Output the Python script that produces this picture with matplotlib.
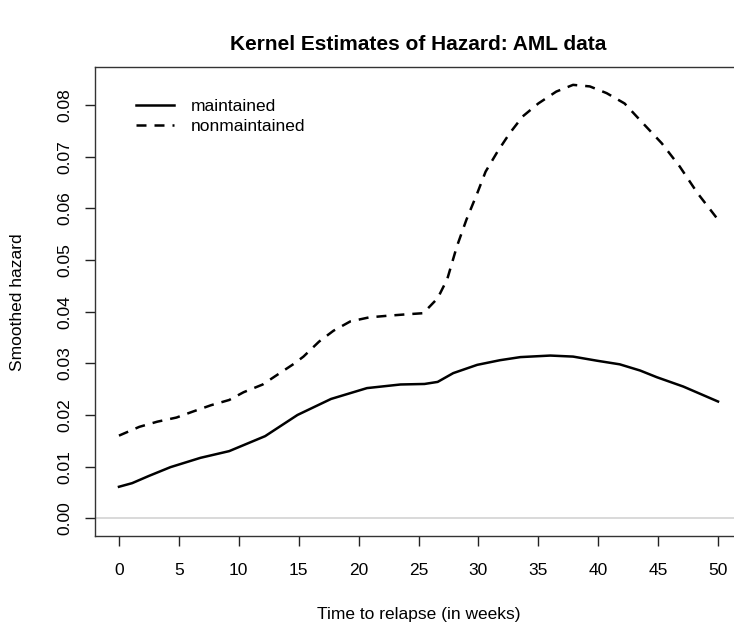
import matplotlib
matplotlib.use('Agg')
import matplotlib.pyplot as plt

# values
weeks_maint = [0, 1.1, 2.5, 4.3, 6.8, 9.2, 12.2, 14.9, 17.7, 20.7, 23.5, 25.5, 26.6,
               27.9, 29.9, 31.8, 33.5, 36.0, 37.9, 39.9, 41.8, 43.5, 44.9, 47.1, 50]
hazard_maint = [0.0061, 0.0068, 0.0082, 0.0099, 0.0117, 0.0130, 0.0159, 0.0200, 0.0231,
                0.0252, 0.0259, 0.0260, 0.0264, 0.0281, 0.0297, 0.0306, 0.0312, 0.0315,
                0.0313, 0.0305, 0.0298, 0.0286, 0.0273, 0.0255, 0.0226]

weeks_nonmaint = [0, 1.7, 3.2, 4.8, 6.1, 7.7, 9.2, 10.4, 12.0, 13.1, 14.6, 15.4, 16.7,
                  17.9, 19.3, 20.9, 22.4, 24.1, 25.4, 26.6, 27.4, 28.2, 29.0, 29.9, 30.6,
                  31.6, 32.6, 33.7, 35.0, 36.5, 37.9, 39.3, 40.7, 42.2, 43.6, 45.3, 46.8,
                  48.3, 50]
hazard_nonmaint = [0.0160, 0.0177, 0.0187, 0.0195, 0.0206, 0.0219, 0.0229, 0.0244, 0.0259,
                   0.0276, 0.0299, 0.0313, 0.0342, 0.0363, 0.0381, 0.0389, 0.0392, 0.0395,
                   0.0397, 0.0426, 0.0463, 0.0526, 0.0578, 0.0629, 0.0671, 0.0710, 0.0745,
                   0.0778, 0.0803, 0.0826, 0.0839, 0.0836, 0.0823, 0.0803, 0.0768, 0.0726,
                   0.0681, 0.0629, 0.0578]

x_ticks = [0, 5, 10, 15, 20, 25, 30, 35, 40, 45, 50]
y_ticks = [0.00, 0.01, 0.02, 0.03, 0.04, 0.05, 0.06, 0.07, 0.08]

plt.rcParams['font.family'] = ['Liberation Sans', 'DejaVu Sans']

W, H = 734, 623
fig = plt.figure(figsize=(W / 100, H / 100), dpi=100)
ax = fig.add_axes([95 / W, (H - 536) / H, (742 - 95) / W, (536 - 67.3) / H])

ax.axhline(0, color='#d3d3d3', lw=1.2, zorder=1)
ax.plot(weeks_maint, hazard_maint, color='black', lw=1.8, label='maintained')
ax.plot(weeks_nonmaint, hazard_nonmaint, color='black', lw=1.8,
        linestyle=(0, (4, 3.2)), label='nonmaintained')

ax.set_xlim(-2, 52)
ax.set_ylim(-0.00343, 0.0873)
ax.set_xticks(x_ticks)
ax.set_xticklabels([str(t) for t in x_ticks])
ax.set_yticks(y_ticks)
ax.set_yticklabels(['%.2f' % t for t in y_ticks], rotation=90, va='center')
ax.tick_params(axis='both', length=7.5, width=1, labelsize=12.5, color='#222222')
ax.tick_params(axis='x', pad=12)
ax.tick_params(axis='y', pad=9)

for s in ax.spines.values():
    s.set_color('#333333')
    s.set_linewidth(1)
ax.spines['right'].set_visible(False)

ax.legend(loc='upper left', bbox_to_anchor=(136 / W, 1 - 99 / H),
          bbox_transform=fig.transFigure, frameon=False, fontsize=12.5,
          handlelength=2.2, handletextpad=0.95, labelspacing=0.25,
          borderpad=0, borderaxespad=0)

fig.text(418.5 / W, 1 - 45 / H, 'Kernel Estimates of Hazard: AML data',
         ha='center', va='center', fontsize=15, fontweight='bold')
fig.text(418.5 / W, (H - 619) / H, 'Time to relapse (in weeks)',
         ha='center', va='baseline', fontsize=12.5)
fig.text(18 / W, 1 - 301.7 / H, 'Smoothed hazard', rotation=90,
         ha='center', va='center', fontsize=12.5)

fig.savefig('out.png', dpi=100)
